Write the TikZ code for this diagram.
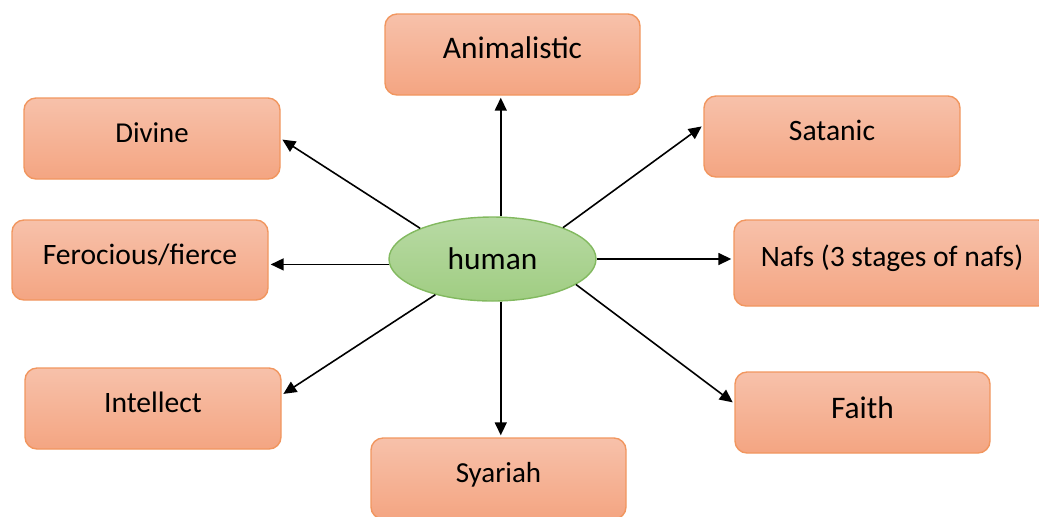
\documentclass[tikz,border=0pt]{standalone}
\usepackage{fontspec}
\setmainfont{Carlito}
\usetikzlibrary{shapes.geometric}
\usetikzlibrary{arrows.meta}
\definecolor{boxtop}{RGB}{247,193,170}
\definecolor{boxbottom}{RGB}{244,165,130}
\definecolor{boxline}{RGB}{241,150,95}
\definecolor{coretop}{RGB}{184,218,164}
\definecolor{corebottom}{RGB}{160,205,130}
\definecolor{coreline}{RGB}{130,185,95}

\begin{document}
\begin{tikzpicture}[x=0.5pt,y=-0.5pt,font=\fontsize{14.8}{18}\selectfont,
        big/.style={font=\fontsize{15.7}{19}\selectfont},
        conceptbox/.style={draw=boxline,line width=0.7pt,rounded corners=6pt,top color=boxtop,bottom color=boxbottom,inner sep=0pt,minimum width=128pt,text height=22pt,text depth=18.5pt},
        core/.style={ellipse,big,draw=coreline,line width=0.7pt,top color=coretop,bottom color=corebottom,inner sep=0pt,minimum width=103.5pt,minimum height=42pt},
        link/.style={line width=0.8pt,-{Triangle[length=6.5pt,width=6pt]},shorten >=1pt}]
        \useasboundingbox (0,0) rectangle (1039,516);
        \clip (0,0) rectangle (1039,516);
        \node[core] (human) at (492.5,259) {human};
        \node[conceptbox,big,minimum width=127.5pt] (animal) at (512.5,54.5) {Animalistic};
        \node[conceptbox,font=\fontsize{14.4}{18}\selectfont] (divine) at (152,138.5) {Divine};
        \node[conceptbox] (satanic) at (832,136.5) {Satanic};
        \node[conceptbox,text depth=18pt] (fierce) at (140,260) {Ferocious/fierce};
        \node[conceptbox,minimum width=158pt,text height=23pt,text depth=20pt] (nafs) at (892,263) {Nafs (3 stages of nafs)};
        \node[conceptbox] (intellect) at (153,408.5) {Intellect};
        \node[conceptbox,big,minimum width=127.5pt,text height=23pt,text depth=17.5pt] (faith) at (862.5,412.5) {Faith};
        \node[conceptbox,font=\fontsize{14.5}{18}\selectfont,minimum width=127.5pt] (syariah) at (498.5,478.5) {Syariah};
        \draw[link] (human.79) -- (human.79 |- animal.south);
        \draw[link] (human.157) -- (divine.east);
        \draw[link] (human.24) -- (satanic.175);
        \draw[link] (human.183) -- (human.183 -| fierce.east);
        \draw[link] (human.east) -- (human.east -| nafs.west);
        \draw[link] (human.212) -- (intellect.6);
        \draw[link] (human.-17) -- (faith.176);
        \draw[link] (human.-79) -- (human.-79 |- syariah.north);
      \end{tikzpicture}
\end{document}
